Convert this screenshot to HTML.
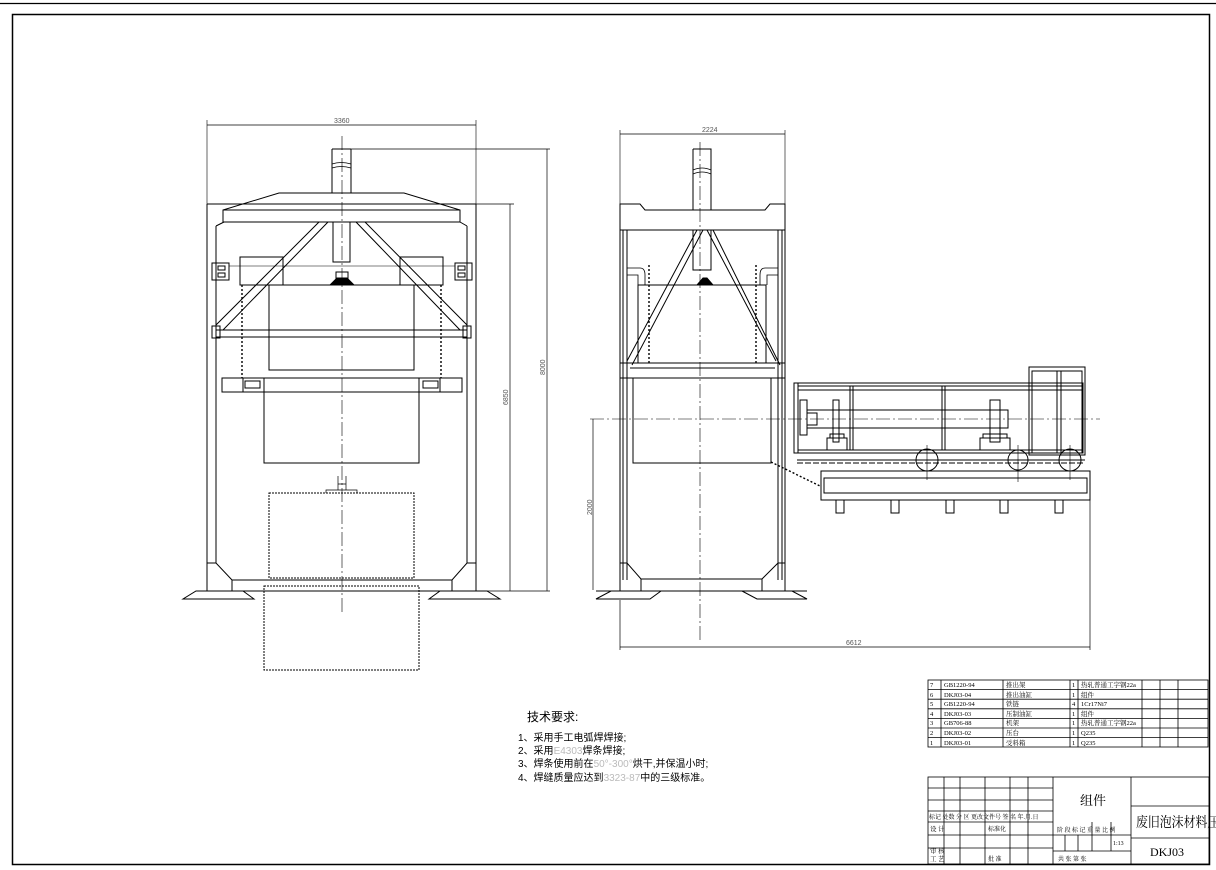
<!DOCTYPE html>
<html><head><meta charset="utf-8"><style>
html,body{margin:0;padding:0;background:#fff}
svg{display:block}
text{font-family:"Liberation Sans","Noto Sans CJK SC",sans-serif}
.s{font-family:"Liberation Serif","Noto Serif CJK SC",serif}
</style></head><body>
<svg width="1216" height="870" viewBox="0 0 1216 870" xmlns="http://www.w3.org/2000/svg" fill="none" stroke="#000" stroke-width="1">
<line x1="0" y1="3.5" x2="1216" y2="3.5" stroke-width="1.2"/>
<rect x="12.5" y="14.5" width="1197" height="850" stroke-width="1.5"/>

<!-- ================= LEFT VIEW ================= -->
<g>
<line x1="207" y1="125" x2="476" y2="125" stroke-width="0.8"/>
<line x1="207" y1="120" x2="207" y2="204" stroke-width="0.6"/>
<line x1="476" y1="120" x2="476" y2="204" stroke-width="0.6"/>
<text x="334" y="123" font-size="7" fill="#555" stroke="none">3360</text>
<line x1="350" y1="149" x2="550" y2="149" stroke-width="0.7"/>
<line x1="476" y1="204" x2="514" y2="204" stroke-width="0.7"/>
<line x1="547" y1="149" x2="547" y2="591" stroke-width="0.7"/>
<line x1="510" y1="204" x2="510" y2="591" stroke-width="0.7"/>
<line x1="476" y1="591" x2="550" y2="591" stroke-width="0.7"/>
<text transform="translate(545,375) rotate(-90)" font-size="7" fill="#555" stroke="none">8000</text>
<text transform="translate(508,405) rotate(-90)" font-size="7" fill="#555" stroke="none">6850</text>
<line x1="342" y1="136" x2="342" y2="614" stroke-width="0.6" stroke-dasharray="14 3 2 3"/>
<path d="M332 149V193M351 149V193M332 149H351"/>
<path d="M332 164 q9 -3 19 0 M332 168 q9 -3 19 0" stroke-width="0.7"/>
<path d="M333 222V262H350V222"/>
<path d="M207 204H476M207 204V591M476 204V591M216 226V563M467 226V563"/>
<path d="M216 226L224 222M467 226L460 222"/>
<path d="M279 193H404L460 210V222H223V210Z"/>
<line x1="223" y1="210" x2="460" y2="210"/>
<path d="M319 222L216 325M328 222L223 330M365 222L467 325M356 222L460 330"/>
<rect x="240" y="257" width="43" height="28"/>
<rect x="400" y="257" width="43" height="28"/>
<line x1="229" y1="266" x2="455" y2="266" stroke-width="0.6"/>
<rect x="212" y="263" width="17" height="17"/><rect x="218" y="266" width="7" height="4"/><rect x="218" y="273" width="7" height="4"/>
<rect x="455" y="263" width="17" height="17"/><rect x="458" y="266" width="7" height="4"/><rect x="458" y="273" width="7" height="4"/>
<path d="M330 285L337 278H347L354 285Z" fill="#000"/>
<rect x="336" y="272" width="12" height="7"/>
<rect x="269" y="285" width="145" height="85"/>
<rect x="216" y="330" width="251" height="7"/>
<rect x="212" y="326" width="8" height="12"/><rect x="463" y="326" width="8" height="12"/>
<line x1="242" y1="285" x2="242" y2="378" stroke-width="1.4" stroke-dasharray="2 2"/>
<line x1="441" y1="285" x2="441" y2="378" stroke-width="1.4" stroke-dasharray="2 2"/>
<rect x="222" y="378" width="240" height="14"/>
<rect x="245" y="381" width="15" height="7"/><rect x="423" y="381" width="15" height="7"/>
<line x1="243" y1="378" x2="243" y2="392"/><line x1="440" y1="378" x2="440" y2="392"/>
<rect x="264" y="378" width="155" height="85"/>
<rect x="269" y="493" width="145" height="85" stroke-dasharray="2 1"/>
<path d="M326 493V490H357V493" stroke-width="0.7"/>
<path d="M338 476V490M346 476V490M338 484H346" stroke-width="0.7"/>
<rect x="264" y="586" width="155" height="84" stroke-dasharray="2 1"/>
<path d="M207 563H216L232 580H452L467 563H476"/>
<path d="M232 580V591M452 580V591"/>
<line x1="207" y1="591" x2="476" y2="591"/>
<path d="M196 591H243L254 599H183Z"/>
<path d="M440 591H487L500 599H429Z"/>
</g>

<!-- ================= RIGHT VIEW ================= -->
<g>
<line x1="620" y1="134" x2="785" y2="134" stroke-width="0.8"/>
<line x1="620" y1="130" x2="620" y2="204" stroke-width="0.6"/>
<line x1="785" y1="130" x2="785" y2="204" stroke-width="0.6"/>
<text x="702" y="132" font-size="7" fill="#555" stroke="none">2224</text>
<line x1="700" y1="142" x2="700" y2="640" stroke-width="0.6" stroke-dasharray="14 3 2 3"/>
<line x1="590" y1="419" x2="1100" y2="419" stroke-width="0.6" stroke-dasharray="14 3 2 3"/>
<path d="M693 149H711V210M693 149V210"/>
<path d="M693 170 q9 -4 18 0 M693 174 q9 -4 18 0" stroke-width="0.7"/>
<path d="M693 230V270H711V230"/>
<path d="M697 285L703 278H707L713 285Z" fill="#000"/>
<path d="M620 204H640L645 210H765L770 204H785V230H620Z"/>
<path d="M620 230V591M627 230V580M778 230V580M785 230V591M623 230V580M782 230V580"/>
<path d="M697 230L627 361M703 230L632 365M707 230L776 361M713 230L780 365" />
<path d="M627 268H640Q645 268 645 275V285M627 275H638V285" stroke-width="0.8"/>
<path d="M778 268H765Q760 268 760 275V285M778 275H767V285" stroke-width="0.8"/>
<rect x="638" y="285" width="128" height="78"/>
<line x1="649" y1="265" x2="649" y2="363" stroke-width="1.4" stroke-dasharray="2 2"/>
<line x1="756" y1="265" x2="756" y2="363" stroke-width="1.4" stroke-dasharray="2 2"/>
<rect x="620" y="363" width="165" height="15"/>
<line x1="630" y1="368" x2="775" y2="368"/>
<rect x="633" y="378" width="138" height="85"/>
<line x1="593" y1="419" x2="593" y2="590" stroke-width="0.7"/>
<text transform="translate(592,515) rotate(-90)" font-size="7" fill="#555" stroke="none">2000</text>
<path d="M620 563H627L641 579H762L778 563H785"/>
<path d="M641 579V591M762 579V591"/>
<line x1="596" y1="591" x2="807" y2="591"/>
<path d="M611 591H661L650 599H596Z"/>
<path d="M742 591H792L807 599H757Z"/>
<line x1="620" y1="600" x2="620" y2="650" stroke-width="0.7"/>
<line x1="1090" y1="500" x2="1090" y2="650" stroke-width="0.7"/>
<line x1="620" y1="647" x2="1090" y2="647" stroke-width="0.8"/>
<text x="846" y="645" font-size="7" fill="#555" stroke="none">6612</text>
<line x1="771" y1="462" x2="820" y2="486" stroke-width="1.4" stroke-dasharray="2 2"/>
<rect x="794" y="383" width="289" height="70"/>
<line x1="798" y1="386" x2="1083" y2="386"/>
<line x1="798" y1="390" x2="1083" y2="390"/>
<line x1="798" y1="383" x2="798" y2="453"/>
<line x1="798" y1="450" x2="1083" y2="450"/>
<rect x="1029" y="367" width="56" height="88"/>
<rect x="1032" y="371" width="50" height="82"/>
<line x1="1057" y1="371" x2="1057" y2="453"/><line x1="1061" y1="371" x2="1061" y2="453"/>
<line x1="850" y1="386" x2="850" y2="450"/><line x1="853" y1="386" x2="853" y2="450"/>
<line x1="942" y1="386" x2="942" y2="450"/><line x1="945" y1="386" x2="945" y2="450"/>
<rect x="800" y="400" width="7" height="35"/>
<rect x="807" y="410" width="201" height="18"/>
<rect x="807" y="413" width="10" height="12"/>
<rect x="833" y="400" width="6" height="42"/>
<rect x="827" y="438" width="20" height="12"/><rect x="830" y="434" width="14" height="4"/>
<rect x="990" y="400" width="10" height="42"/>
<rect x="980" y="438" width="30" height="12"/><rect x="983" y="434" width="24" height="4"/>
<line x1="797" y1="460" x2="1085" y2="460"/>
<line x1="797" y1="463" x2="1085" y2="463" stroke-dasharray="6 2"/>
<circle cx="927" cy="460" r="11"/><circle cx="1018" cy="460" r="10"/><circle cx="1070" cy="460" r="11"/>
<path d="M927 445V480M1018 445V482M1070 445V480M914 460H940M1005 460H1031M1057 460H1083" stroke-width="0.6"/>
<rect x="821" y="471" width="269" height="29"/>
<rect x="824" y="478" width="263" height="15"/>
<rect x="836" y="500" width="8" height="13"/><rect x="891" y="500" width="8" height="13"/>
<rect x="946" y="500" width="8" height="13"/><rect x="1000" y="500" width="8" height="13"/>
<rect x="1055" y="500" width="8" height="13"/>
</g>

<!-- ================= TECH TEXT ================= -->
<g stroke="none" fill="#000">
<text x="527" y="721" font-size="12">技术要求:</text>
<text x="518" y="741" font-size="10">1、采用手工电弧焊焊接;</text>
<text x="518" y="754" font-size="10">2、采用<tspan fill="#bbb">E4303</tspan>焊条焊接;</text>
<text x="518" y="767" font-size="10">3、焊条使用前在<tspan fill="#bbb">50°-300°</tspan>烘干,并保温小时;</text>
<text x="518" y="781" font-size="10">4、焊缝质量应达到<tspan fill="#bbb">3323-87</tspan>中的三级标准。</text>
</g>

<!-- ================= PARTS TABLE ================= -->
<g stroke-width="0.8">
<rect x="928" y="680" width="280" height="67"/>
<path d="M928 689.6H1208M928 699.2H1208M928 708.8H1208M928 718.4H1208M928 728H1208M928 737.6H1208"/>
<path d="M941 680V747M1003 680V747M1070 680V747M1078 680V747M1142 680V747M1160 680V747M1178 680V747"/>
</g>
<g stroke="none" fill="#000" font-size="6.5" class="s">
<text x="930" y="687" class="s">7</text><text x="944" y="687" class="s">GB1220-94</text><text x="1006" y="687" class="s">推出架</text><text x="1072" y="687" class="s">1</text><text x="1081" y="687" class="s">热轧普通工字钢22a</text>
<text x="930" y="697" class="s">6</text><text x="944" y="697" class="s">DKJ03-04</text><text x="1006" y="697" class="s">推出油缸</text><text x="1072" y="697" class="s">1</text><text x="1081" y="697" class="s">组件</text>
<text x="930" y="706" class="s">5</text><text x="944" y="706" class="s">GB1220-94</text><text x="1006" y="706" class="s">铁链</text><text x="1072" y="706" class="s">4</text><text x="1081" y="706" class="s">1Cr17Ni7</text>
<text x="930" y="716" class="s">4</text><text x="944" y="716" class="s">DKJ03-03</text><text x="1006" y="716" class="s">压制油缸</text><text x="1072" y="716" class="s">1</text><text x="1081" y="716" class="s">组件</text>
<text x="930" y="725" class="s">3</text><text x="944" y="725" class="s">GB706-88</text><text x="1006" y="725" class="s">机架</text><text x="1072" y="725" class="s">1</text><text x="1081" y="725" class="s">热轧普通工字钢22a</text>
<text x="930" y="735" class="s">2</text><text x="944" y="735" class="s">DKJ03-02</text><text x="1006" y="735" class="s">压台</text><text x="1072" y="735" class="s">1</text><text x="1081" y="735" class="s">Q235</text>
<text x="930" y="745" class="s">1</text><text x="944" y="745" class="s">DKJ03-01</text><text x="1006" y="745" class="s">受料箱</text><text x="1072" y="745" class="s">1</text><text x="1081" y="745" class="s">Q235</text>
</g>

<!-- ================= TITLE BLOCK ================= -->
<g stroke-width="0.8">
<rect x="928" y="777" width="281" height="87"/>
<path d="M928 788H1053M928 800H1053M928 811H1053M928 822H1053M928 835H1053M928 848H1053"/>
<path d="M944 777V864M960 777V822M985 777V864M1010 777V864M1028 777V864M1053 777V864"/>
<path d="M960 822V864" />
<line x1="1131" y1="777" x2="1131" y2="864"/>
<line x1="1131" y1="806" x2="1209" y2="806"/>
<path d="M1053 835H1131M1053 851H1131"/>
<path d="M1092 822V851M1111 822V851M1065 835V851M1078 835V851"/>
<line x1="1131" y1="838" x2="1209" y2="838"/>
</g>
<g stroke="none" fill="#000" class="s">
<text x="1080" y="805" font-size="13" class="s">组件</text>
<text transform="translate(1136,827) scale(0.85,1)" font-size="14" class="s">废旧泡沫材料压缩</text>
<text x="1150" y="856" font-size="12" class="s">DKJ03</text>
<text x="929" y="819" font-size="6" class="s">标记 处数  分 区  更改文件号 签 名 年.月.日</text>
<text x="930" y="831" font-size="6.5" class="s">设 计</text>
<text x="988" y="831" font-size="6" class="s">标准化</text>
<text x="930" y="853" font-size="6.5" class="s">审 核</text>
<text x="930" y="861" font-size="6.5" class="s">工 艺</text>
<text x="988" y="861" font-size="6" class="s">批 准</text>
<text x="1057" y="832" font-size="6" class="s">阶 段 标 记   重 量  比 例</text>
<text x="1113" y="845" font-size="6" class="s">1:13</text>
<text x="1058" y="861" font-size="6" class="s">共    张   第    张</text>
</g>
</svg>
</body></html>
